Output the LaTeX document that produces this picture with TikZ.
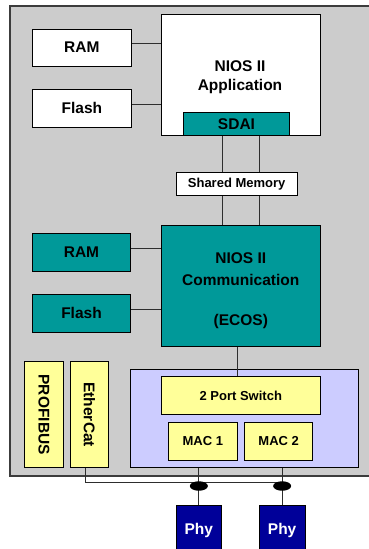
\documentclass[tikz,border=0pt]{standalone}
\usepackage{fontspec}
\setmainfont{Liberation Sans}
\usetikzlibrary{shapes.geometric}
\definecolor{bggray}{RGB}{204,204,204}
\definecolor{tealbox}{RGB}{0,153,153}
\definecolor{lavbox}{RGB}{204,204,255}
\definecolor{yelbox}{RGB}{255,255,153}
\definecolor{phyblue}{RGB}{0,0,153}
\definecolor{linegray}{RGB}{45,45,45}
\definecolor{framegray}{RGB}{60,60,60}
\begin{document}
\begin{tikzpicture}[x=1pt,y=-1pt,
  box/.style={draw=black, line width=1pt, inner sep=0pt, align=center,
    font=\bfseries\fontsize{15.5}{19}\selectfont},
  smallbox/.style={box, font=\bfseries\fontsize{13}{16}\selectfont},
  whitebox/.style={box, fill=white},
  tealnode/.style={box, fill=tealbox},
  yelnode/.style={smallbox, fill=yelbox},
  phynode/.style={box, fill=phyblue, text=white},
  label/.style={align=center, inner sep=0pt, font=\bfseries\fontsize{15.5}{19}\selectfont},
  conn/.style={draw=linegray, line width=1pt},
  joint/.style={ellipse, fill=black, inner sep=0pt, minimum width=18pt, minimum height=9.5pt}
]
\clip (0,0) rectangle (369,549);
\fill[white] (0,0) rectangle (369,549);
% outer board
\node[draw=framegray, fill=bggray, line width=1.5pt, minimum width=380pt, minimum height=470pt, anchor=north west, inner sep=0pt] (board) at (9,5) {};

% upper processor
\node[whitebox, minimum width=98.3pt, minimum height=37.3pt] (ram1) at (81.85,47.65) {RAM};
\node[whitebox, minimum width=98.3pt, minimum height=38pt] (flash1) at (81.85,108.3) {Flash};
\node[whitebox, minimum width=159pt, minimum height=121pt, anchor=north west] (app) at (161.3,13.7) {};
\node[label] (applabel) at (240,77) {NIOS II\\Application};
\node[tealnode, minimum width=105.6pt, minimum height=23pt] (sdai) at (236.5,123.8) {SDAI};

% shared memory
\node[whitebox, smallbox, fill=white, minimum width=121.3pt, minimum height=23.4pt] (shared) at (236.65,184) {Shared Memory};

% lower processor
\node[tealnode, minimum width=98.4pt, minimum height=38pt] (ram2) at (81.5,252) {RAM};
\node[tealnode, minimum width=98.4pt, minimum height=38pt] (flash2) at (81.5,313) {Flash};
\node[tealnode, minimum width=159pt, minimum height=121.4pt] (comm) at (240.8,286) {};
\node[label, font=\bfseries\fontsize{15.5}{22}\selectfont] (commlabel) at (240.8,290.5) {NIOS II\\Communication\\[18pt](ECOS)};

% field buses
\node[box, fill=yelbox, rotate=-90, minimum width=106pt, minimum height=38.3pt] (profibus) at (43.85,414.7) {PROFIBUS};
\node[box, fill=yelbox, rotate=-90, minimum width=106pt, minimum height=38.4pt] (ethercat) at (89.5,414.7) {EtherCat};

% switch block
\node[draw=black, line width=1pt, fill=lavbox, minimum width=228pt, minimum height=98.4pt, inner sep=0pt] (lav) at (244.3,418.5) {};
\node[yelnode, minimum width=159pt, minimum height=37.6pt] (switch) at (240.8,395.5) {2 Port Switch};
\node[yelnode, minimum width=69pt, minimum height=38pt] (mac1) at (202.8,441) {MAC 1};
\node[yelnode, minimum width=68pt, minimum height=38pt] (mac2) at (278.7,441) {MAC 2};

% phys
\node[phynode, minimum width=45.7pt, minimum height=51pt] (phy1) at (198.85,530.5) {Phy};
\node[phynode, minimum width=45.7pt, minimum height=51pt] (phy2) at (282.15,530.5) {Phy};

% connectors
\draw[conn] ([yshift=4pt]ram1.east) -- ([yshift=4pt]ram1.east -| app.west);
\draw[conn] ([yshift=4pt]flash1.east) -- ([yshift=4pt]flash1.east -| app.west);
\draw[conn] ([yshift=3.5pt]ram2.east) -- ([yshift=3.5pt]ram2.east -| comm.west);
\draw[conn] ([yshift=4pt]flash2.east) -- ([yshift=4pt]flash2.east -| comm.west);
\draw[conn] ([xshift=-14.5pt]sdai.south) -- ([xshift=-14.5pt]sdai.south |- shared.north);
\draw[conn] ([xshift=22.8pt]sdai.south) -- ([xshift=22.8pt]sdai.south |- shared.north);
\draw[conn] ([xshift=-14.5pt]shared.south) -- ([xshift=-14.5pt]shared.south |- comm.north);
\draw[conn] ([xshift=22.6pt]shared.south) -- ([xshift=22.6pt]shared.south |- comm.north);
\draw[conn] ([xshift=-3.8pt]comm.south) -- ([xshift=-3.8pt]comm.south |- switch.north);

\coordinate (busend) at (281.7,482.7);
\draw[conn] ([xshift=-4.5pt]ethercat.east) |- (busend);
\draw[conn] (phy1.north |- lav.south) -- (phy1.north);
\draw[conn] (phy2.north |- lav.south) -- (phy2.north);
\node[joint] (j1) at (phy1.north |- 0,486) {};
\node[joint] (j2) at (phy2.north |- 0,486) {};
\end{tikzpicture}
\end{document}
